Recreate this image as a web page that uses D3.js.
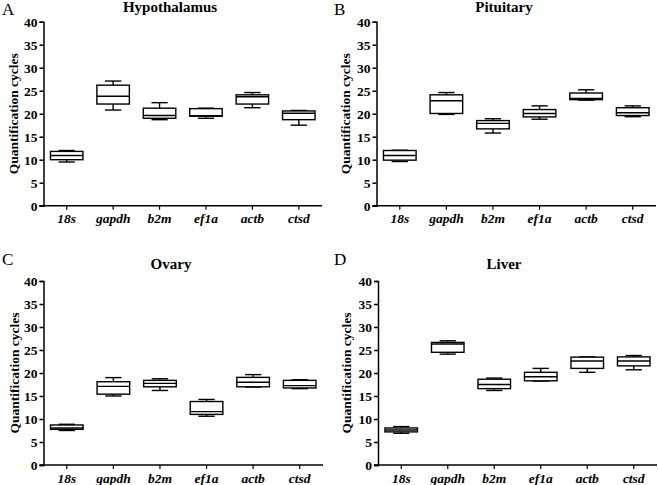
<!DOCTYPE html>
<html>
<head>
<meta charset="utf-8">
<script src="https://cdn.jsdelivr.net/npm/d3@7"></script>
<style>
  html, body { margin: 0; padding: 0; background: #fff; }
  svg { display: block; }
  text { font-family: "Liberation Serif", "Times New Roman", serif; fill: #000; }
</style>
</head>
<body>
<svg id="chart" width="658" height="485"></svg>
<script>
// Genes (categories)
const genes = ["18s", "gapdh", "b2m", "ef1a", "actb", "ctsd"];
// Y tick values
const yTicks = [0, 5, 10, 15, 20, 25, 30, 35, 40];

// Box statistics per gene: [min, q1, median, q3, max]
const hypothalamus = [
  [9.5, 10.0, 10.9, 11.8, 12.0],
  [20.8, 22.1, 23.8, 26.2, 27.1],
  [18.7, 19.0, 19.6, 21.2, 22.4],
  [19.0, 19.45, 19.55, 21.1, 21.2],
  [21.3, 22.1, 23.7, 24.1, 24.6],
  [17.5, 18.7, 20.1, 20.6, 20.7]
];
const pituitary = [
  [9.6, 9.9, 10.9, 12.0, 12.05],
  [19.85, 20.05, 22.8, 24.1, 24.6],
  [15.8, 16.7, 17.9, 18.5, 18.9],
  [18.8, 19.3, 20.05, 20.9, 21.7],
  [22.95, 23.05, 23.3, 24.5, 25.2],
  [19.35, 19.6, 20.2, 21.3, 21.7]
];
const ovary = [
  [7.5, 7.75, 8.05, 8.7, 8.85],
  [15.0, 15.4, 17.1, 18.1, 19.0],
  [16.2, 17.0, 17.75, 18.4, 18.75],
  [10.6, 11.0, 11.6, 13.8, 14.25],
  [16.95, 17.0, 18.0, 19.05, 19.65],
  [16.6, 16.75, 17.25, 18.4, 18.55]
];
const liver = [
  [6.9, 7.2, 7.6, 8.05, 8.35],
  [24.1, 24.5, 26.3, 26.65, 27.0],
  [16.2, 16.6, 17.5, 18.65, 18.9],
  [18.25, 18.3, 19.2, 20.15, 21.0],
  [20.15, 21.0, 22.6, 23.45, 23.5],
  [20.7, 21.55, 22.6, 23.5, 23.8]
];

const panels = [
  { letter: "A", title: "Hypothalamus", data: hypothalamus, x0: 43.5, x1: 322, yTop: 21.7, yBot: 205.7, lx: 2, ly: 15, tx: 170, ty: 12, labX: 13 },
  { letter: "B", title: "Pituitary", data: pituitary, x0: 376.5, x1: 656, yTop: 21.7, yBot: 205.7, lx: 334, ly: 15, tx: 504, ty: 12, labX: 345 },
  { letter: "C", title: "Ovary", data: ovary, x0: 43.5, x1: 323, yTop: 281, yBot: 465, lx: 2, ly: 265, tx: 171, ty: 269, labX: 14 },
  { letter: "D", title: "Liver", data: liver, x0: 378, x1: 657, yTop: 281, yBot: 465, lx: 334, ly: 265, tx: 504, ty: 269, labX: 346 }
];

const svg = d3.select("#chart");

panels.forEach(p => {
  const g = svg.append("g");
  const x = d3.scaleBand().domain(genes).range([p.x0, p.x1]).paddingInner(0.3).paddingOuter(0.15);
  const y = d3.scaleLinear().domain([0, 40]).range([p.yBot, p.yTop]);

  // y axis
  const ya = g.append("g").attr("transform", `translate(${p.x0},0)`)
    .call(d3.axisLeft(y).tickValues(yTicks).tickSize(4).tickPadding(2));
  ya.select(".domain").attr("stroke", "#000").attr("stroke-width", 1.5);
  ya.selectAll(".tick line").attr("stroke", "#000").attr("stroke-width", 1.5);
  ya.selectAll(".tick text").style("font-family", "'Liberation Serif', serif")
    .style("font-size", "13.5px").style("font-weight", "bold").attr("fill", "#000");

  // x axis
  const xa = g.append("g").attr("transform", `translate(0,${p.yBot})`)
    .call(d3.axisBottom(x).tickSize(4).tickSizeOuter(0).tickPadding(4));
  xa.select(".domain").attr("stroke", "#000").attr("stroke-width", 1.5)
    .attr("d", `M${p.x0 - 4},0H${p.x1}`);
  xa.selectAll(".tick line").attr("stroke", "#000").attr("stroke-width", 1.2);
  xa.selectAll(".tick text").style("font-family", "'Liberation Serif', serif")
    .style("font-size", "13.5px").style("font-weight", "bold").style("font-style", "italic").attr("fill", "#000");

  // boxes
  const bw = x.bandwidth();
  p.data.forEach((s, i) => {
    const cx = x(genes[i]) + bw / 2;
    const [mn, q1, md, q3, mx] = s;
    const bg = g.append("g").attr("stroke", "#000").attr("stroke-width", 1.4).attr("fill", "none");
    // whiskers
    bg.append("line").attr("x1", cx).attr("x2", cx).attr("y1", y(mx)).attr("y2", y(q3));
    bg.append("line").attr("x1", cx).attr("x2", cx).attr("y1", y(q1)).attr("y2", y(mn));
    bg.append("line").attr("x1", cx - bw / 4).attr("x2", cx + bw / 4).attr("y1", y(mx)).attr("y2", y(mx));
    bg.append("line").attr("x1", cx - bw / 4).attr("x2", cx + bw / 4).attr("y1", y(mn)).attr("y2", y(mn));
    // box
    bg.append("rect").attr("x", x(genes[i])).attr("y", y(q3)).attr("width", bw)
      .attr("height", y(q1) - y(q3)).attr("fill", "#fff");
    // median
    bg.append("line").attr("x1", x(genes[i])).attr("x2", x(genes[i]) + bw).attr("y1", y(md)).attr("y2", y(md));
  });

  // title
  g.append("text").attr("x", p.tx).attr("y", p.ty).attr("text-anchor", "middle")
    .style("font-size", "15px").style("font-weight", "bold").text(p.title);
  // panel letter
  g.append("text").attr("x", p.lx).attr("y", p.ly)
    .style("font-size", "17px").text(p.letter);
  // y label
  g.append("text")
    .attr("transform", `translate(${p.labX + 5},${(p.yTop + p.yBot) / 2}) rotate(-90)`)
    .attr("text-anchor", "middle")
    .style("font-size", "13.5px").style("font-weight", "bold").text("Quantification cycles");
});
</script>
</body>
</html>
